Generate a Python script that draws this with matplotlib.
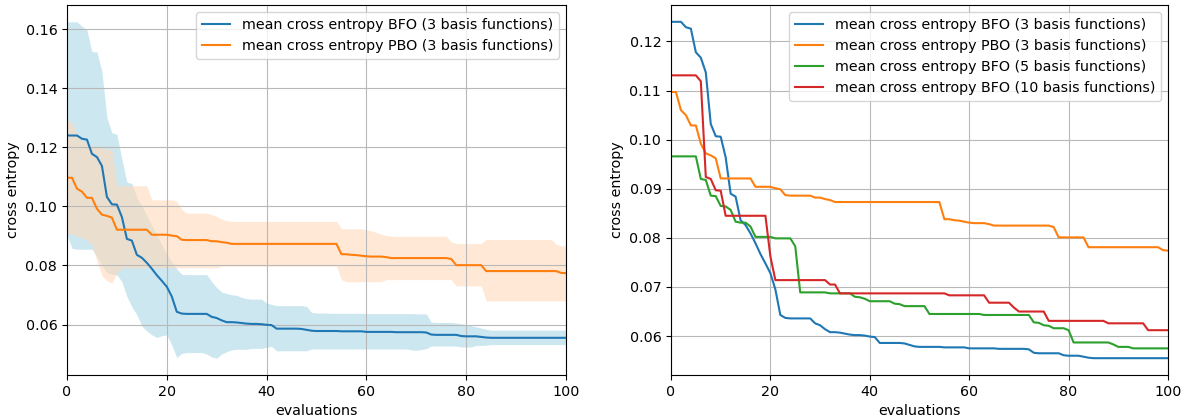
import matplotlib
matplotlib.use("Agg")
import matplotlib.pyplot as plt
import numpy as np

evaluations = list(range(0, 101))

bfo3_mean = [
    0.1240, 0.1240, 0.1240, 0.1229, 0.1226, 0.1178, 0.1167, 0.1137, 0.1032, 0.1007,
    0.1006, 0.0964, 0.0890, 0.0884, 0.0836, 0.0826, 0.0809, 0.0789, 0.0767, 0.0748,
    0.0728, 0.0695, 0.0643, 0.0637, 0.0636, 0.0636, 0.0636, 0.0636, 0.0636, 0.0626,
    0.0622, 0.0614, 0.0608, 0.0608, 0.0607, 0.0605, 0.0603, 0.0602, 0.0602, 0.0601,
    0.0599, 0.0598, 0.0586, 0.0586, 0.0586, 0.0586, 0.0586, 0.0585, 0.0582, 0.0579,
    0.0578, 0.0578, 0.0578, 0.0578, 0.0578, 0.0577, 0.0577, 0.0577, 0.0577, 0.0577,
    0.0575, 0.0575, 0.0575, 0.0575, 0.0575, 0.0575, 0.0574, 0.0574, 0.0574, 0.0574,
    0.0574, 0.0574, 0.0573, 0.0566, 0.0565, 0.0565, 0.0565, 0.0565, 0.0565, 0.0561,
    0.0560, 0.0560, 0.0560, 0.0558, 0.0556, 0.0555, 0.0555, 0.0555, 0.0555, 0.0555,
    0.0555, 0.0555, 0.0555, 0.0555, 0.0555, 0.0555, 0.0555, 0.0555, 0.0555, 0.0555,
    0.0555,
]

bfo3_upper = [
    0.1625, 0.1625, 0.1625, 0.1610, 0.1597, 0.1524, 0.1523, 0.1456, 0.1300, 0.1249,
    0.1244, 0.1160, 0.1082, 0.1078, 0.1030, 0.1002, 0.0970, 0.0935, 0.0905, 0.0870,
    0.0838, 0.0812, 0.0788, 0.0770, 0.0769, 0.0769, 0.0769, 0.0769, 0.0769, 0.0745,
    0.0725, 0.0710, 0.0705, 0.0701, 0.0699, 0.0692, 0.0688, 0.0686, 0.0686, 0.0686,
    0.0673, 0.0668, 0.0664, 0.0664, 0.0664, 0.0664, 0.0664, 0.0664, 0.0662, 0.0641,
    0.0639, 0.0639, 0.0639, 0.0638, 0.0638, 0.0638, 0.0638, 0.0638, 0.0638, 0.0638,
    0.0637, 0.0637, 0.0637, 0.0637, 0.0637, 0.0637, 0.0637, 0.0637, 0.0637, 0.0637,
    0.0636, 0.0636, 0.0636, 0.0608, 0.0607, 0.0607, 0.0607, 0.0607, 0.0605, 0.0603,
    0.0600, 0.0596, 0.0592, 0.0588, 0.0584, 0.0581, 0.0581, 0.0581, 0.0581, 0.0581,
    0.0581, 0.0581, 0.0581, 0.0581, 0.0581, 0.0581, 0.0581, 0.0581, 0.0581, 0.0581,
    0.0581,
]

bfo3_lower = [
    0.0903, 0.0858, 0.0855, 0.0855, 0.0855, 0.0855, 0.0830, 0.0800, 0.0775, 0.0770,
    0.0768, 0.0745, 0.0695, 0.0660, 0.0633, 0.0595, 0.0578, 0.0565, 0.0556, 0.0562,
    0.0565, 0.0530, 0.0488, 0.0502, 0.0505, 0.0505, 0.0505, 0.0505, 0.0500, 0.0490,
    0.0486, 0.0500, 0.0508, 0.0514, 0.0516, 0.0516, 0.0516, 0.0519, 0.0519, 0.0519,
    0.0523, 0.0526, 0.0511, 0.0511, 0.0511, 0.0511, 0.0511, 0.0511, 0.0511, 0.0517,
    0.0517, 0.0517, 0.0517, 0.0517, 0.0517, 0.0517, 0.0517, 0.0517, 0.0517, 0.0517,
    0.0517, 0.0517, 0.0517, 0.0517, 0.0517, 0.0517, 0.0517, 0.0517, 0.0517, 0.0514,
    0.0513, 0.0515, 0.0518, 0.0527, 0.0527, 0.0527, 0.0527, 0.0527, 0.0527, 0.0524,
    0.0524, 0.0524, 0.0529, 0.0529, 0.0530, 0.0532, 0.0532, 0.0532, 0.0532, 0.0532,
    0.0532, 0.0532, 0.0532, 0.0532, 0.0532, 0.0532, 0.0532, 0.0532, 0.0532, 0.0532,
    0.0532,
]

pbo3_mean = [
    0.1097, 0.1097, 0.1060, 0.1050, 0.1029, 0.1029, 0.0992, 0.0972, 0.0968, 0.0962,
    0.0921, 0.0921, 0.0921, 0.0921, 0.0921, 0.0921, 0.0921, 0.0904, 0.0904, 0.0904,
    0.0904, 0.0901, 0.0899, 0.0887, 0.0886, 0.0886, 0.0886, 0.0886, 0.0886, 0.0882,
    0.0882, 0.0879, 0.0877, 0.0873, 0.0873, 0.0873, 0.0873, 0.0873, 0.0873, 0.0873,
    0.0873, 0.0873, 0.0873, 0.0873, 0.0873, 0.0873, 0.0873, 0.0873, 0.0873, 0.0873,
    0.0873, 0.0873, 0.0873, 0.0873, 0.0873, 0.0838, 0.0838, 0.0836, 0.0835, 0.0833,
    0.0831, 0.0830, 0.0830, 0.0830, 0.0828, 0.0825, 0.0825, 0.0825, 0.0825, 0.0825,
    0.0825, 0.0825, 0.0825, 0.0825, 0.0825, 0.0825, 0.0825, 0.0822, 0.0801, 0.0801,
    0.0801, 0.0801, 0.0801, 0.0801, 0.0781, 0.0781, 0.0781, 0.0781, 0.0781, 0.0781,
    0.0781, 0.0781, 0.0781, 0.0781, 0.0781, 0.0781, 0.0781, 0.0781, 0.0781, 0.0775,
    0.0774,
]

pbo3_upper = [
    0.1292, 0.1285, 0.1243, 0.1225, 0.1213, 0.1205, 0.1200, 0.1198, 0.1195, 0.1190,
    0.1070, 0.1070, 0.1070, 0.1070, 0.1070, 0.1070, 0.1070, 0.1022, 0.1022, 0.1022,
    0.1022, 0.1022, 0.1018, 0.0990, 0.0977, 0.0977, 0.0977, 0.0977, 0.0977, 0.0973,
    0.0966, 0.0957, 0.0952, 0.0949, 0.0949, 0.0949, 0.0949, 0.0949, 0.0949, 0.0949,
    0.0949, 0.0949, 0.0949, 0.0949, 0.0949, 0.0949, 0.0949, 0.0949, 0.0949, 0.0949,
    0.0949, 0.0949, 0.0949, 0.0949, 0.0949, 0.0924, 0.0924, 0.0924, 0.0924, 0.0924,
    0.0921, 0.0917, 0.0912, 0.0906, 0.0901, 0.0899, 0.0899, 0.0899, 0.0899, 0.0899,
    0.0899, 0.0899, 0.0899, 0.0899, 0.0899, 0.0899, 0.0899, 0.0880, 0.0874, 0.0874,
    0.0874, 0.0874, 0.0874, 0.0874, 0.0888, 0.0888, 0.0888, 0.0888, 0.0888, 0.0888,
    0.0888, 0.0888, 0.0888, 0.0888, 0.0888, 0.0888, 0.0888, 0.0888, 0.0872, 0.0867,
    0.0866,
]

pbo3_lower = [
    0.0910, 0.0905, 0.0900, 0.0893, 0.0888, 0.0870, 0.0815, 0.0765, 0.0748, 0.0740,
    0.0775, 0.0792, 0.0792, 0.0792, 0.0792, 0.0792, 0.0792, 0.0792, 0.0792, 0.0792,
    0.0792, 0.0792, 0.0792, 0.0792, 0.0792, 0.0792, 0.0792, 0.0792, 0.0792, 0.0792,
    0.0792, 0.0798, 0.0798, 0.0798, 0.0798, 0.0798, 0.0798, 0.0798, 0.0798, 0.0798,
    0.0798, 0.0798, 0.0798, 0.0798, 0.0798, 0.0798, 0.0798, 0.0798, 0.0798, 0.0798,
    0.0798, 0.0798, 0.0798, 0.0798, 0.0798, 0.0752, 0.0745, 0.0745, 0.0745, 0.0745,
    0.0745, 0.0745, 0.0745, 0.0745, 0.0752, 0.0752, 0.0752, 0.0752, 0.0752, 0.0752,
    0.0752, 0.0752, 0.0752, 0.0752, 0.0752, 0.0752, 0.0752, 0.0752, 0.0731, 0.0731,
    0.0731, 0.0731, 0.0731, 0.0731, 0.0680, 0.0680, 0.0680, 0.0680, 0.0680, 0.0680,
    0.0680, 0.0680, 0.0680, 0.0680, 0.0680, 0.0680, 0.0680, 0.0680, 0.0680, 0.0680,
    0.0680,
]

bfo5_mean = [
    0.0966, 0.0966, 0.0966, 0.0966, 0.0966, 0.0966, 0.0920, 0.0918, 0.0886, 0.0885,
    0.0865, 0.0864, 0.0857, 0.0833, 0.0831, 0.0831, 0.0823, 0.0802, 0.0802, 0.0802,
    0.0802, 0.0799, 0.0799, 0.0799, 0.0799, 0.0783, 0.0689, 0.0689, 0.0689, 0.0689,
    0.0689, 0.0689, 0.0687, 0.0687, 0.0687, 0.0687, 0.0687, 0.0680, 0.0679, 0.0676,
    0.0671, 0.0671, 0.0671, 0.0671, 0.0671, 0.0666, 0.0665, 0.0661, 0.0661, 0.0661,
    0.0661, 0.0661, 0.0645, 0.0645, 0.0645, 0.0645, 0.0645, 0.0645, 0.0645, 0.0645,
    0.0645, 0.0645, 0.0645, 0.0643, 0.0643, 0.0643, 0.0643, 0.0643, 0.0643, 0.0643,
    0.0643, 0.0643, 0.0643, 0.0628, 0.0627, 0.0622, 0.0621, 0.0616, 0.0616, 0.0616,
    0.0612, 0.0587, 0.0587, 0.0587, 0.0587, 0.0587, 0.0587, 0.0587, 0.0587, 0.0583,
    0.0578, 0.0578, 0.0578, 0.0575, 0.0575, 0.0575, 0.0575, 0.0575, 0.0575, 0.0575,
    0.0575,
]

bfo10_mean = [
    0.1131, 0.1131, 0.1131, 0.1131, 0.1131, 0.1131, 0.1119, 0.0924, 0.0920, 0.0897,
    0.0896, 0.0845, 0.0845, 0.0845, 0.0845, 0.0845, 0.0845, 0.0845, 0.0845, 0.0845,
    0.0762, 0.0714, 0.0714, 0.0714, 0.0714, 0.0714, 0.0714, 0.0714, 0.0714, 0.0714,
    0.0714, 0.0714, 0.0705, 0.0705, 0.0687, 0.0687, 0.0687, 0.0687, 0.0687, 0.0687,
    0.0687, 0.0687, 0.0687, 0.0687, 0.0687, 0.0687, 0.0687, 0.0687, 0.0687, 0.0687,
    0.0687, 0.0687, 0.0687, 0.0687, 0.0687, 0.0687, 0.0683, 0.0683, 0.0683, 0.0683,
    0.0683, 0.0683, 0.0683, 0.0683, 0.0668, 0.0668, 0.0668, 0.0668, 0.0668, 0.0658,
    0.0650, 0.0650, 0.0650, 0.0650, 0.0650, 0.0650, 0.0631, 0.0631, 0.0631, 0.0631,
    0.0631, 0.0631, 0.0631, 0.0631, 0.0631, 0.0631, 0.0631, 0.0631, 0.0626, 0.0626,
    0.0626, 0.0626, 0.0626, 0.0626, 0.0626, 0.0626, 0.0612, 0.0612, 0.0612, 0.0612,
    0.0612,
]

labels = [
    "mean cross entropy BFO (3 basis functions)",
    "mean cross entropy PBO (3 basis functions)",
    "mean cross entropy BFO (5 basis functions)",
    "mean cross entropy BFO (10 basis functions)",
]

C_BLUE = "#1f77b4"
C_ORANGE = "#ff7f0e"
C_GREEN = "#2ca02c"
C_RED = "#d62728"

W, H = 1184, 419
fig = plt.figure(figsize=(W / 100, H / 100), dpi=100)

def pos(l, r, t, b):
    return [l / W, 1 - b / H, (r - l) / W, (b - t) / H]

ax1 = fig.add_axes(pos(67, 566, 5, 375))
ax2 = fig.add_axes(pos(671, 1168, 5, 375))

x = np.array(evaluations)

ax1.plot(x, bfo3_mean, color=C_BLUE, lw=1.5, label=labels[0])
ax1.plot(x, pbo3_mean, color=C_ORANGE, lw=1.5, label=labels[1])
ax1.fill_between(x, bfo3_lower, bfo3_upper, color="lightblue", alpha=0.6, lw=0)
ax1.fill_between(x, pbo3_lower, pbo3_upper, color="peachpuff", alpha=0.6, lw=0)

ax2.plot(x, bfo3_mean, color=C_BLUE, lw=1.5, label=labels[0])
ax2.plot(x, pbo3_mean, color=C_ORANGE, lw=1.5, label=labels[1])
ax2.plot(x, bfo5_mean, color=C_GREEN, lw=1.5, label=labels[2])
ax2.plot(x, bfo10_mean, color=C_RED, lw=1.5, label=labels[3])

FS = 10.3
for ax in (ax1, ax2):
    ax.set_xlim(0, 100)
    ax.grid(True, color="#b8b8b8", lw=0.8)
    ax.set_xlabel("evaluations", fontsize=FS)
    ax.set_ylabel("cross entropy", fontsize=FS)
    ax.tick_params(labelsize=FS)
    ax.legend(loc="upper right", fontsize=FS)

fig.savefig("out.png", dpi=100)
